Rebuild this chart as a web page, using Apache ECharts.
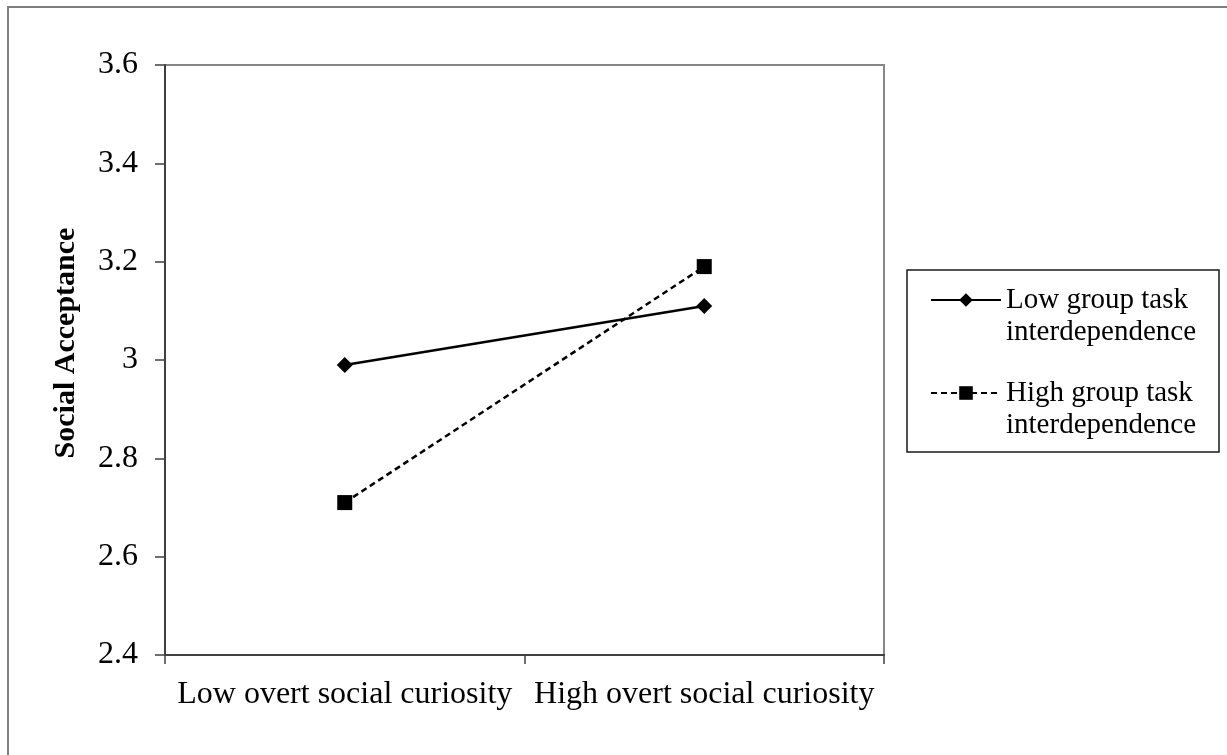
<!DOCTYPE html>
<html>
<head>
<meta charset="utf-8">
<script src="https://cdn.jsdelivr.net/npm/echarts@6/dist/echarts.min.js"></script>
<style>
html,body{margin:0;padding:0;background:#fff;}
#chart{width:1227px;height:755px;}
</style>
</head>
<body>
<div id="chart"></div>
<script>
// ---- data ----
const categories = ['Low overt social curiosity', 'High overt social curiosity'];
const seriesNames = ['Low group task\ninterdependence', 'High group task\ninterdependence'];
const lowTaskValues = [2.99, 3.11];
const highTaskValues = [2.71, 3.19];
const yTickLabels = ['2.4', '2.6', '2.8', '3', '3.2', '3.4', '3.6'];
const yAxisTitle = 'Social Acceptance';

const FONT = '"Liberation Serif", "Times New Roman", serif';
const yMin = Number(yTickLabels[0]);
const yMax = Number(yTickLabels[yTickLabels.length - 1]);
const yStep = 0.2;

const chart = echarts.init(document.getElementById('chart'), null, {renderer: 'canvas'});
chart.setOption({
  animation: false,
  backgroundColor: '#fff',
  graphic: [
    {type: 'rect', shape: {x: 8, y: 7, width: 1240, height: 770},
     style: {fill: 'none', stroke: '#7f7f7f', lineWidth: 2}, silent: true, z: -1},
    {type: 'rect', shape: {x: 907, y: 270, width: 312, height: 182},
     style: {fill: 'none', stroke: '#1a1a1a', lineWidth: 1.5}, silent: true}
  ],
  grid: {left: 165, top: 65, right: 343, bottom: 100, show: true,
         borderColor: '#868686', borderWidth: 2, backgroundColor: 'transparent'},
  legend: {
    orient: 'vertical', left: 930, top: 252, itemWidth: 70, itemHeight: 17,
    itemGap: -3, padding: 0,
    data: seriesNames,
    formatter: function (name) { return '\n' + name; },
    textStyle: {fontFamily: FONT, fontSize: 29, color: '#000', lineHeight: 32}
  },
  xAxis: {
    type: 'category', data: categories, boundaryGap: true,
    axisLine: {lineStyle: {color: '#404040', width: 2}},
    axisTick: {show: true, length: 9, lineStyle: {color: '#404040', width: 1.5}},
    axisLabel: {fontFamily: FONT, fontSize: 32, color: '#000', margin: 24, interval: 0},
    splitLine: {show: false}
  },
  yAxis: {
    type: 'value', min: yMin, max: yMax, interval: yStep,
    name: yAxisTitle, nameLocation: 'middle', nameGap: 84,
    nameTextStyle: {fontFamily: FONT, fontSize: 30, fontWeight: 'bold', color: '#000',
                    padding: [0, 0, 0, 34]},
    axisLine: {show: true, lineStyle: {color: '#404040', width: 2}},
    axisTick: {show: true, length: 10, lineStyle: {color: '#404040', width: 1.5}},
    axisLabel: {fontFamily: FONT, fontSize: 32, color: '#000', margin: 27,
      formatter: function (v) {
        const idx = Math.round((v - yMin) / yStep);
        return yTickLabels[idx] !== undefined ? yTickLabels[idx] : '';
      }},
    splitLine: {show: false}
  },
  series: [
    {name: seriesNames[0], type: 'line', data: lowTaskValues,
     symbol: 'diamond', symbolSize: 16, showAllSymbol: true,
     itemStyle: {color: '#000'}, lineStyle: {color: '#000', width: 2.5, type: 'solid'}},
    {name: seriesNames[1], type: 'line', data: highTaskValues,
     symbol: 'rect', symbolSize: 15, showAllSymbol: true,
     itemStyle: {color: '#000'}, lineStyle: {color: '#000', width: 2.5, type: [6, 4]}}
  ]
});
</script>
</body>
</html>
